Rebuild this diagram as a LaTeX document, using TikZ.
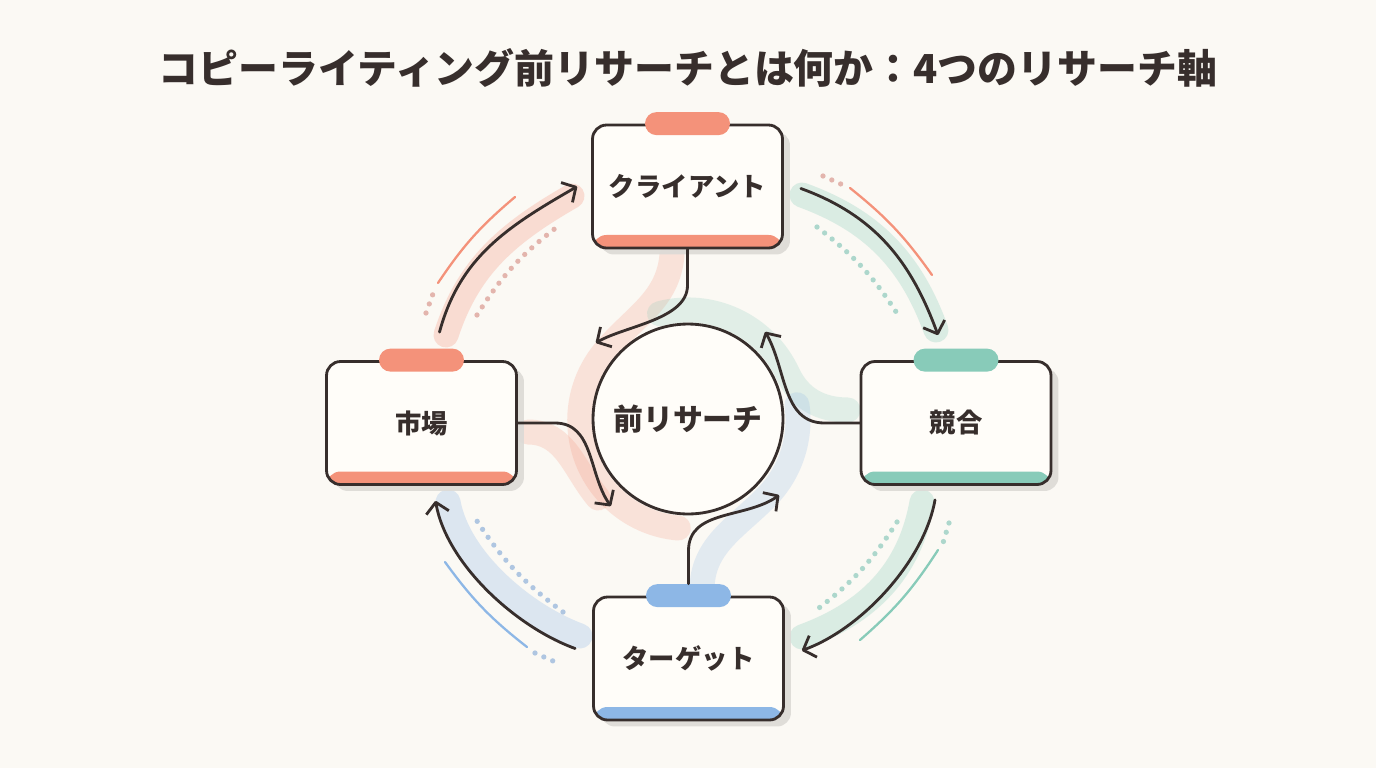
\documentclass[tikz,border=0pt]{standalone}
\usepackage{fontspec}
\setmainfont{Noto Sans CJK JP}
\usetikzlibrary{arrows.meta,calc,shadows}
\definecolor{paper}{HTML}{FBF9F4}
\definecolor{ink}{HTML}{372E2C}
\definecolor{salmon}{HTML}{F4927A}
\definecolor{mint}{HTML}{88CBB9}
\definecolor{sky}{HTML}{8DB7E6}
\definecolor{cardfill}{HTML}{FFFDF9}
\definecolor{shade}{HTML}{DCDAD6}
\definecolor{rosedot}{HTML}{DDA49C}
\definecolor{mintdot}{HTML}{9ACFC3}
\definecolor{skydot}{HTML}{9DBADD}

\begin{document}
\begin{tikzpicture}[x=0.02cm,y=0.02cm,
	card/.style={draw=ink,line width=1.6pt,fill=cardfill,rounded corners=0.28cm,minimum width=3.8cm,minimum height=2.46cm,font=\fontsize{15}{17}\selectfont\bfseries,text=ink,drop shadow={shadow xshift=0.15cm,shadow yshift=-0.13cm,fill=shade,opacity=0.9},path picture={\fill[#1] (path picture bounding box.south west) rectangle ([yshift=0.26cm]path picture bounding box.south east);}},
	tab/.style={fill=#1,minimum width=1.7cm,minimum height=0.46cm,rounded corners=0.23cm,inner sep=0pt},
	link/.style={draw=ink,line width=1.6pt,line cap=round,-{Straight Barb[length=6pt,width=13pt,line join=round]}},
	glow/.style={draw=#1,line width=0.5cm,line cap=round,opacity=0.28},
	trace/.style={draw=#1,line width=1.3pt,line cap=round},
	dots/.style={draw=#1,line width=3pt,line cap=round,dash pattern=on 0pt off 5.5pt,opacity=0.8}]
	\path[use as bounding box,fill=paper] (0,0) rectangle (1376,-768);

	\node[text=ink,font=\fontsize{22.7}{26}\selectfont\bfseries] (title) at (688,-68) {コピーライティング前リサーチとは何か：4つのリサーチ軸};

	\draw[glow=salmon] (446,-335) to[out=72,in=210] (572,-196);
	\draw[glow=mint] (802,-195) to[out=-20,in=110] (936,-330);
	\draw[glow=mint] (922,-502) to[out=-100,in=20] (802,-637);
	\draw[glow=sky] (580,-636) to[out=160,in=-80,looseness=0.8] (448,-502);
	\draw[glow=salmon,opacity=0.22] (672,-255) to[out=-95,in=50] (605,-351) arc[start angle=140,end angle=265,radius=108];
	\draw[glow=salmon,opacity=0.22] (528,-432) to[out=0,in=130] (598,-498);
	\draw[glow=mint,opacity=0.22] (659.5,-313.7) arc[start angle=105,end angle=25,radius=110] to[out=-65,in=180] (848,-410);
	\draw[glow=sky,opacity=0.22] (702,-590) to[out=90,in=-135] (765.8,-497.8) arc[start angle=-45,end angle=8,radius=110];

	\draw[trace=salmon] (438,-283) to[bend left=8] (515,-197);
	\draw[dots=rosedot] (426,-313) -- (434,-291);
	\draw[dots=rosedot] (477,-315) to[bend left=10] (557,-227);
	\draw[trace=salmon] (850,-188) to[bend left=8] (932,-275);
	\draw[dots=rosedot] (823,-176) -- (843,-185);
	\draw[dots=mintdot] (817,-227) to[bend left=10] (900,-318);
	\draw[trace=mint] (938,-550) to[bend left=8] (860,-640);
	\draw[dots=mintdot] (949,-523) -- (943,-543);
	\draw[dots=mintdot] (897,-522) to[bend left=10] (815,-611);
	\draw[trace=sky] (527,-647) to[bend left=8] (445,-562);
	\draw[dots=skydot] (535,-653) -- (553,-661);
	\draw[dots=skydot] (563,-612) to[bend left=10] (475,-518);

	\node[card=salmon] (cli) at (687.5,-186.5) {クライアント};
	\node[card=salmon] (mkt) at (421.5,-423) {市場};
	\node[card=mint] (cmp) at (956,-423) {競合};
	\node[card=sky] (tgt) at (688.5,-658.5) {ターゲット};
	\node[tab=salmon] (cliT) at (cli.north) {};
	\node[tab=salmon] (mktT) at (mkt.north) {};
	\node[tab=mint] (cmpT) at (cmp.north) {};
	\node[tab=sky] (tgtT) at (tgt.north) {};
	\node[circle,draw=ink,line width=1.6pt,fill=cardfill,minimum size=3.8cm,text=ink,font=\fontsize{17}{20}\selectfont\bfseries] (core) at (688,-419) {前リサーチ};

	\draw[link] ($(mkt.north)+(18,28)$) to[out=75,in=210] ($(cli.west)+(-14,0)$);
	\draw[link] ($(cli.east)+(17,-2)$) to[out=-20,in=110] ($(cmp.north)+(-18,25)$);
	\draw[link] ($(cmp.south)+(-21,-14)$) to[out=-100,in=20,looseness=0.8] ($(tgt.east)+(17,8)$);
	\draw[link] ($(tgt.west)+(-17,10)$) to[out=160,in=-80,looseness=0.8] ($(mkt.south)+(14,-15)$);

	\draw[link] (cli.south) -- ++(0,-36) to[out=-90,in=30,looseness=0.8] ($(core.135)+(-24,8)$);
	\draw[link] (mkt.east) -- ++(37,0) to[out=0,in=125] ($(core.225)+(-9,-19)$);
	\draw[link] (cmp.west) -- ++(-35,0) to[out=180,in=-60] ($(core.45)+(9,19)$);
	\draw[link] (tgtT.north) -- ++(0,33) to[out=90,in=-145] ($(core.-45)+(23,-8)$);
\end{tikzpicture}
\end{document}
